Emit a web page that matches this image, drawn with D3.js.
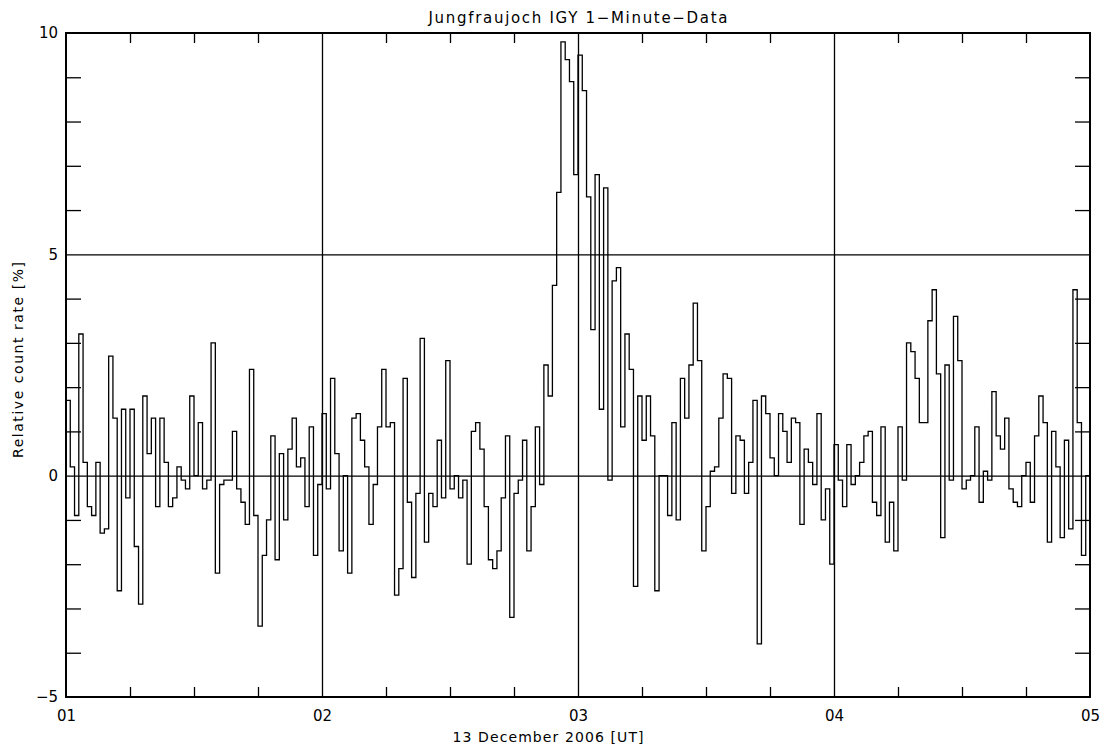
<!DOCTYPE html>
<html>
<head>
<meta charset="utf-8">
<script src="https://cdn.jsdelivr.net/npm/d3@7"></script>
<style>
  body { margin: 0; background: #fff; }
  text { font-family: "DejaVu Sans", sans-serif; fill: #000; }
</style>
</head>
<body>
<div id="chart"></div>
<script>
// 1-minute relative count rates [%], one array per hour (01-02, 02-03, 03-04, 04-05 UT)
var hour01 = [1.7, 0.2, -0.9, 3.2, 0.3, -0.7, -0.9, 0.3, -1.3, -1.2,
              2.7, 1.3, -2.6, 1.5, -0.5, 1.5, -1.6, -2.9, 1.8, 0.5,
              1.3, -0.7, 1.3, 0.3, -0.7, -0.5, 0.2, -0.1, -0.3, 1.8,
              0.0, 1.2, -0.3, -0.1, 3.0, -2.2, -0.2, -0.1, -0.1, 1.0,
              -0.3, -0.6, -1.1, 2.4, -0.9, -3.4, -1.8, -1.0, 0.9, -1.9,
              0.5, -1.0, 0.6, 1.3, 0.2, 0.4, -0.7, 1.1, -1.8, -0.2];
var hour02 = [1.4, -0.3, 2.2, 0.5, -1.7, 0.0, -2.2, 1.3, 1.4, 0.8,
              0.2, -1.1, -0.2, 1.1, 2.4, 1.1, 1.2, -2.7, -2.1, 2.2,
              -0.6, -2.3, -0.4, 3.1, -1.5, -0.4, -0.7, 0.8, -0.5, 2.6,
              -0.3, 0.0, -0.5, -0.1, -2.0, 1.0, 1.2, 0.6, -0.7, -1.9,
              -2.1, -1.7, -0.5, 0.9, -3.2, -0.4, -0.1, 0.8, -1.7, -0.7,
              1.1, -0.2, 2.5, 1.8, 4.3, 6.4, 9.8, 9.4, 8.9, 6.8];
var hour03 = [9.5, 8.7, 6.3, 3.3, 6.8, 1.5, 6.5, -0.1, 4.4, 4.7,
              1.1, 3.2, 2.4, -2.5, 1.8, 0.8, 1.8, 0.9, -2.6, 0.0,
              0.0, -0.9, 1.2, -1.0, 2.2, 1.3, 2.5, 3.9, 2.6, -1.7,
              -0.7, 0.1, 0.2, 1.3, 2.3, 2.2, -0.4, 0.9, 0.8, -0.4,
              0.3, 1.7, -3.8, 1.8, 1.4, 0.4, 0.0, 1.4, 1.0, 0.3,
              1.3, 1.2, -1.1, 0.6, 0.3, -0.2, 1.4, -1.0, -0.3, -2.0];
var hour04 = [0.7, -0.1, -0.7, 0.7, -0.2, 0.0, 0.3, 0.9, 1.0, -0.6,
              -0.9, 1.1, -1.5, -0.6, -1.7, 1.1, -0.1, 3.0, 2.8, 2.2,
              1.2, 1.2, 3.5, 4.2, 2.3, -1.4, 2.5, -0.1, 3.6, 2.6,
              -0.3, -0.1, 0.0, 1.1, -0.6, 0.1, -0.1, 1.9, 0.9, 0.6,
              1.3, -0.3, -0.6, -0.7, 0.0, 0.3, -0.6, 0.9, 1.8, 1.2,
              -1.5, 1.0, 0.2, -1.4, 0.8, -1.2, 4.2, 1.2, -1.8, 0.0];

var hourLabels = ["01", "02", "03", "04", "05"];
var yLabels = [-5, 0, 5, 10];

var values = hour01.concat(hour02, hour03, hour04);
var W = 1104, H = 749;
var pLeft = 66, pRight = 1090, pTop = 33, pBottom = 697;

var svg = d3.select("#chart").append("svg")
        .attr("width", W)
        .attr("height", H);

var x = d3.scaleLinear().domain([0, 240]).range([pLeft, pRight]);
var y = d3.scaleLinear().domain([-5, 10]).range([pBottom, pTop]);

// minor ticks: every 15 minutes, every 1 %
var minorX = d3.range(15, 240, 15).filter(function (m) { return m % 60 != 0; });
var minorY = d3.range(-4, 10, 1).filter(function (v) { return v % 5 != 0; });

var styleAxis = function (g) {
    g.select(".domain").remove();
    g.selectAll("line").attr("stroke", "#000").attr("stroke-width", 1.3);
};

svg.append("g").attr("transform", "translate(0," + pBottom + ")")
        .call(d3.axisBottom(x).tickValues(minorX).tickSize(-10).tickFormat(""))
        .call(styleAxis);
svg.append("g").attr("transform", "translate(0," + pTop + ")")
        .call(d3.axisTop(x).tickValues(minorX).tickSize(-10).tickFormat(""))
        .call(styleAxis);
svg.append("g").attr("transform", "translate(" + pLeft + ",0)")
        .call(d3.axisLeft(y).tickValues(minorY).tickSize(-15).tickFormat(""))
        .call(styleAxis);
svg.append("g").attr("transform", "translate(" + pRight + ",0)")
        .call(d3.axisRight(y).tickValues(minorY).tickSize(-15).tickFormat(""))
        .call(styleAxis);

// grid lines at the hours and at 0 / 5 %
svg.append("g").attr("transform", "translate(0," + pBottom + ")")
        .call(d3.axisBottom(x).tickValues([60, 120, 180]).tickSize(-(pBottom - pTop)).tickFormat(""))
        .call(styleAxis);
svg.append("g").attr("transform", "translate(" + pLeft + ",0)")
        .call(d3.axisLeft(y).tickValues([0, 5]).tickSize(-(pRight - pLeft)).tickFormat(""))
        .call(styleAxis);

// tick labels
var xl = svg.append("g").attr("transform", "translate(0," + (pBottom + 10) + ")")
        .call(d3.axisBottom(x).tickValues([0, 60, 120, 180, 240]).tickSize(0)
            .tickFormat(function (d, i) { return hourLabels[i]; }));
xl.select(".domain").remove();
xl.selectAll("text").style("font-size", "15px").style("font-family", "DejaVu Sans, sans-serif");

var yl = svg.append("g").attr("transform", "translate(" + (pLeft - 5) + ",0)")
        .call(d3.axisLeft(y).tickValues(yLabels).tickSize(0)
            .tickFormat(function (d) { return d < 0 ? "\u2212" + Math.abs(d) : d; }));
yl.select(".domain").remove();
yl.selectAll("text").style("font-size", "15px").style("font-family", "DejaVu Sans, sans-serif");

// data step line
var line = d3.line()
        .x(function (d, i) { return x(i); })
        .y(function (d) { return y(d); })
        .curve(d3.curveStepAfter);

svg.append("path")
        .datum(values.concat([values[values.length - 1]]))
        .attr("d", line)
        .attr("fill", "none")
        .attr("stroke", "#000")
        .attr("stroke-width", 1.3);

// frame
svg.append("rect")
        .attr("x", pLeft).attr("y", pTop)
        .attr("width", pRight - pLeft).attr("height", pBottom - pTop)
        .attr("fill", "none")
        .attr("stroke", "#000")
        .attr("stroke-width", 2);

// titles
svg.append("text")
        .attr("x", (pLeft + pRight) / 2).attr("y", 23)
        .attr("text-anchor", "middle")
        .attr("textLength", 299).attr("lengthAdjust", "spacing")
        .style("font-size", "15px")
        .text("Jungfraujoch IGY 1\u2212Minute\u2212Data");

svg.append("text")
        .attr("x", 548).attr("y", 742)
        .attr("text-anchor", "middle")
        .attr("textLength", 191).attr("lengthAdjust", "spacing")
        .style("font-size", "14px")
        .text("13 December 2006 [UT]");

svg.append("text")
        .attr("transform", "translate(23,360) rotate(-90)")
        .attr("text-anchor", "middle")
        .attr("textLength", 196).attr("lengthAdjust", "spacing")
        .style("font-size", "14px")
        .text("Relative count rate [%]");
</script>
</body>
</html>
